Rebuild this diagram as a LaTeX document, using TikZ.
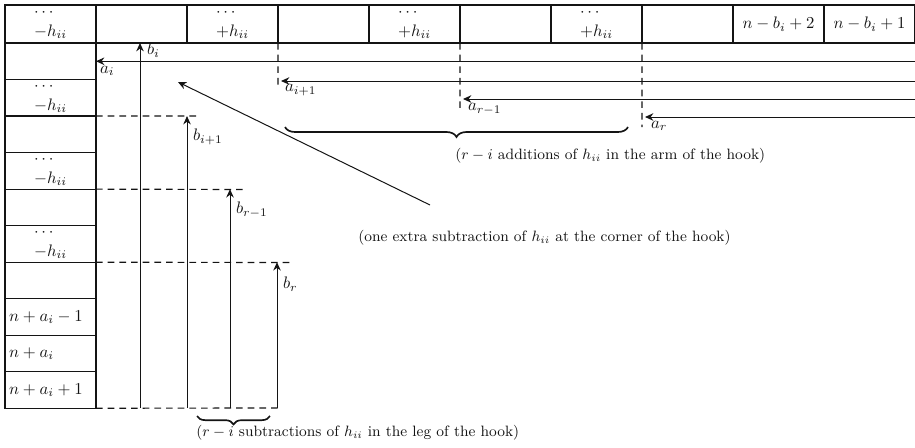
\documentclass[tikz,border=0pt]{standalone}
\usepackage{amsmath,amssymb}
\usepackage{xcolor}
\usepackage{tikz}
\usetikzlibrary{positioning,arrows.meta,calc,decorations.pathreplacing}
\definecolor{ink}{RGB}{20,20,20}
\tikzset{
  cell/.style={draw=ink, minimum width=54.6pt, minimum height=22.8pt, inner sep=2pt,
    outer sep=0pt, align=left, text=ink, line width=0.7pt},
  hcell/.style={cell, minimum height=21.9pt},
  lcell/.style={cell, minimum height=21.9pt, text width=49.6pt},
  flow/.style={-{Stealth[length=5pt,width=4.5pt]}, line width=0.6pt, draw=ink},
  guide/.style={line width=0.7pt, draw=ink, dash pattern=on 4pt off 3pt},
  lbl/.style={text=ink, inner sep=1pt},
  note/.style={text=ink, inner sep=0pt, font=\small},
  hbrace/.style={decorate, decoration={brace, mirror, amplitude=#1}, line width=1pt, draw=ink},
}

\begin{document}
\begin{tikzpicture}[x=0.6pt,y=-0.6pt]
  \useasboundingbox (0,0) rectangle (915,447);
  % top row
  \node[cell] (t1) at (50.5,24) {$\cdots$\\$-h_{ii}$};
  \node[cell, right=0pt of t1] (t2) {};
  \node[cell, right=0pt of t2] (t3) {$\cdots$\\$+h_{ii}$};
  \node[cell, right=0pt of t3] (t4) {};
  \node[cell, right=0pt of t4] (t5) {$\cdots$\\$+h_{ii}$};
  \node[cell, right=0pt of t5] (t6) {};
  \node[cell, right=0pt of t6] (t7) {$\cdots$\\$+h_{ii}$};
  \node[cell, right=0pt of t7] (t8) {};
  \node[cell, right=0pt of t8] (t9) {$n-b_i+2$};
  \node[cell, right=0pt of t9] (t10) {$n-b_i+1$};
  % left column
  \node[hcell, below=0pt of t1] (l1) {};
  \node[hcell, below=0pt of l1] (l2) {$\cdots$\\$-h_{ii}$};
  \node[hcell, below=0pt of l2] (l3) {};
  \node[hcell, below=0pt of l3] (l4) {$\cdots$\\$-h_{ii}$};
  \node[hcell, below=0pt of l4] (l5) {};
  \node[hcell, below=0pt of l5] (l6) {$\cdots$\\$-h_{ii}$};
  \node[hcell, below=0pt of l6] (l7) {};
  \node[lcell, below=0pt of l7] (l8) {$n+a_i-1$};
  \node[lcell, below=0pt of l8] (l9) {$n+a_i$};
  \node[lcell, below=0pt of l9] (l10) {$n+a_i+1$};

  % arm: dashed drops and arrows a
  \coordinate (d1) at (278,88);
  \coordinate (d2) at (460,108);
  \coordinate (d3) at (642,127);
  \draw[guide] (t3.south east) -- (d1);
  \draw[guide] (t5.south east) -- (d2);
  \draw[guide] (t7.south east) -- (d3);
  \coordinate (ai) at (l1.east -| t10.east);
  \coordinate (ai1) at (915,81);
  \coordinate (air1) at (915,99);
  \coordinate (air) at (915,117);
  \coordinate (ei1) at (281,81);
  \coordinate (eir1) at (463,99);
  \coordinate (eir) at (645,117);
  \draw[flow] (ai) -- (l1.east);
  \draw[flow] (ai1) -- (ei1);
  \draw[flow] (air1) -- (eir1);
  \draw[flow] (air) -- (eir);
  \node[lbl, anchor=west] (lai) at (98,71) {$a_i$};
  \node[lbl, anchor=west] (lai1) at (283,90) {$a_{i+1}$};
  \node[lbl, anchor=west] (lair1) at (466,109) {$a_{r-1}$};
  \node[lbl, anchor=west] (lair) at (649,126) {$a_r$};

  % leg: dashed rules and arrows b
  \coordinate (h1) at (198,116);
  \coordinate (h2) at (243,189.5);
  \coordinate (h3) at (292,262.5);
  \coordinate (h4) at (278,408);
  \draw[guide] (l2.south east) -- (h1);
  \draw[guide] (l4.south east) -- (h2);
  \draw[guide] (l6.south east) -- (h3);
  \draw[guide] (l10.south east) -- (h4);
  \coordinate (bi) at (140,408);
  \coordinate (bi1) at (187,408);
  \coordinate (bir1) at (230,408);
  \coordinate (bir) at (277,408);
  \draw[flow] (bi) -- (bi |- t2.south);
  \draw[flow] (bi1) -- (bi1 |- l2.south);
  \draw[flow] (bir1) -- (bir1 |- l4.south);
  \draw[flow] (bir) -- (bir |- l6.south);
  \node[lbl, anchor=west] (lbi) at (145,50) {$b_i$};
  \node[lbl, anchor=west] (lbi1) at (191,137) {$b_{i+1}$};
  \node[lbl, anchor=west] (lbir1) at (234,210) {$b_{r-1}$};
  \node[lbl, anchor=west] (lbir) at (281,284) {$b_r$};

  % braces and notes
  \coordinate (ba) at (285,127);
  \coordinate (bb) at (628,127);
  \draw[hbrace=6pt] (ba) -- (bb);
  \node[note, anchor=west] (narm) at (455,156) {($r-i$ additions of $h_{ii}$ in the arm of the hook)};
  \coordinate (bc) at (197,416);
  \coordinate (bd) at (270,416);
  \draw[hbrace=5pt] (bc) -- (bd);
  \node[note, anchor=west] (nleg) at (196,433) {($r-i$ subtractions of $h_{ii}$ in the leg of the hook)};
  \coordinate (cs) at (430,205);
  \coordinate (ce) at (178,82);
  \draw[flow] (cs) -- (ce);
  \node[note, anchor=west] (ncorner) at (358,238) {(one extra subtraction of $h_{ii}$ at the corner of the hook)};
\end{tikzpicture}
\end{document}
